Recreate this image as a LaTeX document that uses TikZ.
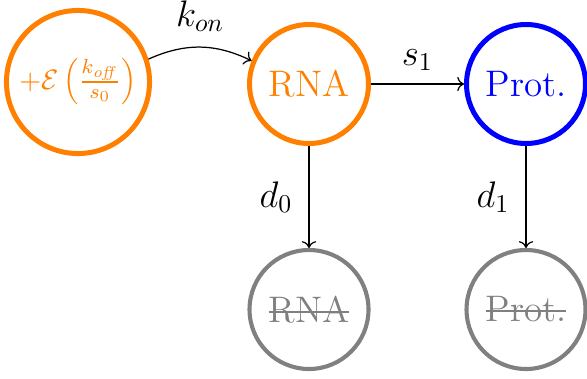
\documentclass[tikz,border=0pt]{standalone}
\usetikzlibrary{arrows.meta}
\newlength\strklen
\newcommand\mystrike[1]{\settowidth{\strklen}{#1}\rlap{#1}\rule[0.6ex]{\strklen}{0.055em}}
\tikzset{
  state/.style={circle, line width=1.95pt, minimum size=46.4pt, inner sep=0pt, font=\Large},
  gone/.style={state, draw=gray, line width=1.6pt, text=gray},
  conn/.style={->, line width=0.48pt},
  lab/.style={inner sep=0pt, font=\Large},
}
\begin{document}
\begin{tikzpicture}[x=0.39pt, y=0.39pt]
\useasboundingbox (0,0) rectangle (587,378);
\node[state, draw=orange, text=orange, minimum size=55.8pt, font=\fontsize{10.95}{13.6}\selectfont] (src) at (78,296)
  {$+\mathcal{E}\left(\frac{k_{\mathit{off}}}{s_0}\right)$};
\node[state, draw=orange, text=orange] (rna) at (309,294) {RNA};
\node[state, draw=blue, text=blue] (prot) at (526,294) {Prot.};
\node[gone] (drna) at (309,68.5) {\mystrike{RNA}};
\node[gone] (dprot) at (526,68.5) {\mystrike{Prot.}};
\draw[conn] (src.18) to[bend left=25] node[lab, above=5.8pt] {$k_{on}$} (rna.158);
\draw[conn] (rna) -- node[lab, above=5pt] {$s_1$} (prot);
\draw[conn] (rna) -- node[lab, left=6.2pt] {$d_0$} (drna);
\draw[conn] (prot) -- node[lab, left=6.2pt] {$d_1$} (dprot);
\end{tikzpicture}
\end{document}
